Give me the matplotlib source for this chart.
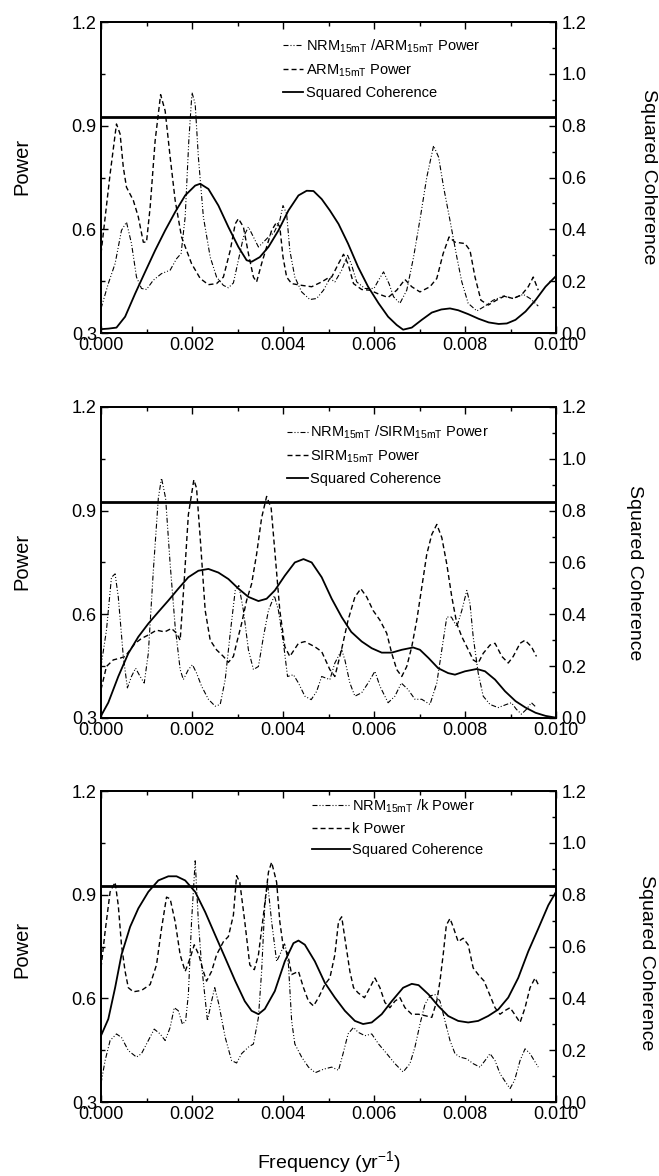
import matplotlib.pyplot as plt
from matplotlib.ticker import MultipleLocator, FormatStrFormatter

plt.rcParams['font.family'] = ['Liberation Sans', 'DejaVu Sans']
plt.rcParams['mathtext.fontset'] = 'custom'
plt.rcParams['mathtext.rm'] = 'Liberation Sans'
plt.rcParams['mathtext.it'] = 'Liberation Sans:italic'
plt.rcParams['mathtext.default'] = 'regular'

# ---- panel 1 : NRM15mT/ARM15mT vs ARM15mT ----
x_ratio1 = [0, .00016, .00031, .00045, .00056, .00067, .00078, .00089, .001, .00115, .00133, .00152, .00166,
            .00176, .00185, .00193, .002, .00207, .00214, .00225, .0024, .00254, .00269, .0028, .00291, .00302,
            .00313, .00324, .00335, .00346, .00357, .00368, .0038, .00393, .004, .00408, .00415, .00426, .00441,
            .00459, .00474, .00489, .00503, .00514, .00529, .00542, .0055, .00562, .0058, .006, .0061, .00621,
            .00633, .00643, .00657, .00672, .00687, .00702, .00716, .00731, .00742, .00753, .00767, .00782,
            .00793, .00807, .00826, .00844, .00862, .00884, .00906, .00928, .00943, .00961]
p_ratio1 = [.371, .443, .501, .597, .621, .559, .462, .429, .426, .453, .472, .482, .515, .53, .636, .857, .996,
            .963, .809, .636, .52, .462, .438, .431, .445, .511, .578, .607, .578, .549, .563, .578, .59, .626,
            .669, .645, .539, .462, .419, .397, .40, .424, .458, .448, .482, .525, .50, .448, .429, .429, .453,
            .477, .443, .405, .386, .424, .52, .636, .751, .842, .809, .722, .626, .52, .448, .386, .364, .378,
            .395, .407, .40, .412, .40, .378]
x_power1 = [0, .0002, .00034, .00042, .00049, .00056, .00071, .00082, .00093, .001, .00108, .00119, .00131,
            .00141, .00152, .00163, .00177, .00199, .00218, .00236, .00254, .00269, .00284, .00295, .00302,
            .00313, .00324, .00335, .00342, .00353, .00364, .00375, .00386, .00393, .004, .00408, .00419, .00441,
            .00463, .00485, .005, .00507, .00522, .00533, .00543, .00555, .00573, .00591, .0061, .00631, .0065,
            .00668, .00683, .00701, .00723, .00738, .00752, .00765, .00778, .008, .00811, .00822, .00835, .00851,
            .00869, .00887, .00905, .00924, .00939, .0095, .00961]
p_power1 = [.53, .76, .905, .876, .78, .722, .684, .636, .563, .563, .664, .857, .99, .943, .809, .684, .578, .501,
            .458, .44, .443, .462, .539, .616, .631, .607, .53, .462, .448, .501, .549, .597, .621, .607, .52, .462,
            .443, .438, .434, .448, .46, .462, .501, .528, .50, .443, .426, .424, .413, .403, .424, .455, .434,
            .419, .434, .458, .53, .578, .563, .559, .539, .462, .395, .381, .395, .407, .40, .41, .434, .462, .424]
x_coh1 = [0, .00016, .00034, .00053, .00075, .00097, .00119, .00141, .00163, .00185, .00207, .00218, .00236,
          .00258, .0028, .00302, .0032, .00331, .00349, .00368, .0039, .00412, .00434, .00452, .00467, .00485,
          .00503, .00522, .00543, .00565, .00587, .0061, .00631, .0065, .00664, .00683, .00705, .00727, .00748,
          .00767, .00785, .00807, .0083, .00852, .00874, .00892, .00911, .00933, .00955, .00977, .01]
coh1 = [.015, .017, .021, .063, .152, .236, .319, .396, .467, .531, .569, .576, .556, .492, .409, .332, .281, .275,
        .293, .332, .396, .473, .531, .549, .548, .517, .473, .421, .345, .255, .179, .115, .063, .031, .013, .021,
        .051, .079, .091, .095, .088, .073, .055, .041, .035, .037, .051, .083, .127, .179, .22]

# ---- panel 2 : NRM15mT/SIRM15mT vs SIRM15mT ----
x_ratio2 = [0, .00012, .00023, .00031, .00038, .00049, .00058, .00067, .00076, .00086, .00095, .00104, .00115,
            .00126, .00133, .00142, .00152, .00163, .00174, .00181, .00192, .00201, .0021, .00221, .00236, .00251,
            .00262, .00273, .00284, .00295, .00303, .00313, .00324, .00335, .00346, .00357, .00368, .00381, .0039,
            .00401, .0041, .00423, .00434, .00448, .00462, .00474, .00485, .00503, .00514, .00529, .00536, .00547,
            .00558, .00573, .00587, .00602, .00613, .00631, .00646, .0066, .00675, .0069, .00705, .00723, .00738,
            .00749, .0076, .0077, .00782, .00793, .00804, .00811, .00818, .00829, .0084, .00855, .00873, .00891,
            .00902, .00913, .00924, .00935, .00946, .00957]
p_ratio2 = [.449, .554, .707, .717, .65, .478, .387, .42, .444, .42, .401, .487, .726, .936, .994, .936, .745, .564,
            .44, .411, .44, .454, .43, .392, .354, .334, .339, .411, .545, .669, .683, .611, .497, .44, .449, .535,
            .611, .654, .611, .516, .42, .425, .401, .363, .353, .377, .42, .411, .459, .497, .468, .401, .363,
            .373, .401, .435, .392, .344, .363, .401, .382, .354, .354, .339, .401, .497, .592, .592, .564, .611,
            .669, .631, .535, .43, .363, .339, .33, .339, .344, .325, .311, .325, .344, .33]
x_power2 = [0, .00012, .00027, .00042, .00053, .00075, .00089, .00104, .00122, .0014, .00155, .00166, .00174,
            .00183, .00192, .00204, .0021, .00218, .00229, .0024, .00254, .00269, .0028, .00291, .00298, .00309,
            .0032, .00331, .00342, .00353, .00364, .00374, .00382, .00393, .00404, .00415, .00434, .00448, .0047,
            .00485, .00503, .00514, .00529, .00543, .00558, .00571, .00584, .00598, .00613, .00628, .00639, .0065,
            .00661, .00672, .00683, .00694, .00705, .00716, .00727, .00738, .00749, .0076, .00771, .00782, .00793,
            .00804, .00818, .00829, .0084, .00855, .00866, .00881, .00895, .00906, .00921, .00932, .00946, .00957]
p_power2 = [.382, .449, .468, .473, .478, .516, .53, .54, .554, .549, .559, .545, .525, .70, .888, .989, .965, .822,
            .611, .525, .497, .478, .461, .478, .516, .573, .64, .688, .774, .879, .941, .907, .783, .611, .506,
            .478, .516, .521, .506, .492, .44, .42, .50, .583, .65, .674, .65, .611, .583, .545, .487, .44, .42,
            .449, .506, .583, .678, .774, .831, .86, .822, .745, .65, .573, .535, .506, .468, .459, .487, .511,
            .516, .478, .459, .478, .516, .525, .506, .478]
x_coh2 = [0, .00016, .00038, .0006, .00082, .00104, .00126, .00148, .0017, .00192, .00214, .00236, .00258, .0028,
          .00302, .00324, .00346, .00364, .00382, .00404, .00426, .00445, .00463, .00485, .00507, .00529, .0055,
          .00573, .00595, .00617, .00639, .00661, .00686, .00701, .0072, .00741, .00763, .00778, .008, .00826,
          .00844, .00866, .00888, .00911, .00933, .00955, .00977, .01]
coh2 = [.008, .059, .16, .249, .313, .364, .409, .453, .499, .543, .568, .575, .561, .536, .499, .467, .451, .46,
        .492, .549, .6, .613, .6, .543, .46, .389, .332, .295, .269, .252, .252, .263, .272, .263, .231, .192,
        .173, .167, .18, .189, .18, .148, .103, .065, .04, .02, .008, .001]

# ---- panel 3 : NRM15mT/k vs k ----
x_ratio3 = [0, .00009, .0002, .00034, .00045, .0006, .00078, .00089, .00104, .00117, .0013, .00141, .00152, .00161,
            .0017, .00179, .00186, .00192, .00199, .00207, .00214, .00221, .00234, .00243, .0025, .00259, .00273,
            .00287, .00298, .00309, .00324, .00335, .00346, .00353, .0036, .00366, .00375, .00386, .00393, .00404,
            .00412, .00419, .00426, .00441, .00456, .00471, .00489, .00507, .00522, .00532, .00543, .00555, .00565,
            .0058, .00595, .0061, .00628, .00646, .00664, .00679, .0069, .00701, .00712, .00723, .00734, .00745,
            .00756, .00767, .00778, .00789, .00804, .00818, .00833, .00844, .00855, .00866, .00877, .00891, .00899,
            .00909, .00921, .00932, .00943, .00954, .00961]
p_ratio3 = [.354, .42, .478, .497, .487, .449, .43, .44, .478, .511, .497, .478, .516, .573, .564, .525, .535, .611,
            .822, .998, .822, .697, .535, .592, .631, .583, .487, .42, .413, .44, .459, .468, .545, .678, .869,
            .936, .822, .707, .726, .76, .697, .535, .468, .43, .401, .385, .395, .401, .392, .44, .497, .516, .502,
            .492, .497, .468, .44, .411, .387, .411, .459, .525, .583, .607, .611, .592, .535, .478, .44, .43, .425,
            .411, .401, .42, .44, .42, .382, .354, .339, .363, .42, .454, .44, .416, .401]
x_power3 = [0, .00009, .0002, .00031, .00038, .00045, .00053, .0006, .00071, .00089, .00108, .00122, .00133, .00144,
            .00152, .00163, .00174, .00185, .00196, .00205, .00215, .00225, .00232, .00243, .00254, .00269, .0028,
            .00291, .00298, .00305, .00316, .00327, .00337, .00346, .00357, .00368, .00375, .00386, .00393, .00401,
            .0041, .00419, .00434, .00445, .00456, .00467, .00478, .00492, .00503, .00514, .00522, .00529, .00536,
            .00547, .00555, .00565, .00579, .00591, .00602, .00613, .00624, .00635, .00646, .00657, .00668, .00683,
            .00698, .00712, .00727, .00738, .00745, .00752, .00759, .00767, .00774, .00785, .00796, .00807, .00818,
            .00829, .00842, .00851, .00866, .00877, .00887, .00899, .00909, .00921, .00932, .00943, .00954, .00961]
p_power3 = [.688, .793, .908, .936, .869, .755, .678, .631, .619, .623, .64, .697, .802, .893, .888, .822, .726,
            .678, .717, .755, .726, .678, .65, .678, .726, .764, .779, .841, .955, .936, .822, .697, .683, .726,
            .841, .965, .994, .936, .822, .745, .731, .669, .678, .631, .592, .578, .602, .64, .659, .726, .822,
            .836, .774, .678, .631, .616, .602, .631, .659, .631, .588, .573, .592, .602, .573, .554, .554, .55,
            .545, .592, .65, .726, .812, .831, .807, .764, .774, .755, .688, .669, .65, .621, .573, .554, .564,
            .573, .554, .53, .573, .631, .659, .64]
x_coh3 = [0, .00016, .00031, .00045, .00064, .00082, .00104, .00126, .00148, .00166, .00185, .00207, .00229, .00251,
          .00273, .00295, .00316, .00331, .00346, .0036, .00382, .00404, .00423, .00434, .00448, .0047, .00492,
          .00514, .00536, .00558, .00576, .00595, .00617, .00639, .00664, .00683, .00698, .0072, .00741, .00763,
          .00785, .00807, .00829, .00851, .00873, .00895, .00917, .00939, .00961, .00983, .01]
coh3 = [.256, .32, .441, .568, .676, .747, .811, .855, .871, .871, .855, .811, .733, .644, .556, .467, .389, .352,
        .339, .359, .428, .543, .613, .623, .607, .543, .46, .403, .352, .313, .301, .307, .339, .389, .441, .456,
        .451, .415, .371, .332, .313, .307, .313, .332, .357, .403, .479, .581, .669, .759, .811]

sig_level = 0.835  # significance level of squared coherence

labels1 = [r'NRM$_{15mT}$ /ARM$_{15mT}$ Power', r'ARM$_{15mT}$ Power', 'Squared Coherence']
labels2 = [r'NRM$_{15mT}$ /SIRM$_{15mT}$ Power', r'SIRM$_{15mT}$ Power', 'Squared Coherence']
labels3 = [r'NRM$_{15mT}$ /k Power', 'k Power', 'Squared Coherence']

panels = [
    dict(xr=x_ratio1, pr=p_ratio1, xp=x_power1, pp=p_power1, xc=x_coh1, c=coh1, labels=labels1,
         bottom=0.7168, leg=(0.40, 0.95), hl=1.4, ylab_y=166, clab=(648, 177)),
    dict(xr=x_ratio2, pr=p_ratio2, xp=x_power2, pp=p_power2, xc=x_coh2, c=coh2, labels=labels2,
         bottom=0.3895, leg=(0.409, 0.946), hl=1.4, ylab_y=561, clab=(635, 573)),
    dict(xr=x_ratio3, pr=p_ratio3, xp=x_power3, pp=p_power3, xc=x_coh3, c=coh3, labels=labels3,
         bottom=0.0629, leg=(0.464, 0.98), hl=2.6, ylab_y=949, clab=(647, 963)),
]

W, H = 659, 1176
fig = plt.figure(figsize=(W / 100, H / 100), dpi=100)

for i, pn in enumerate(panels):
    ax = fig.add_axes([101 / W, pn['bottom'], 455 / W, 311 / H])
    ax2 = ax.twinx()

    l1, = ax.plot(pn['xr'], pn['pr'], color='black', lw=0.8,
                  linestyle=(0, (4.5, 1.8, 0.9, 1.8, 0.9, 1.8)))
    l2, = ax.plot(pn['xp'], pn['pp'], color='black', lw=1.0, linestyle=(0, (3.6, 2.2)))
    l3, = ax2.plot(pn['xc'], pn['c'], color='black', lw=1.3)
    ax2.axhline(sig_level, color='black', lw=2.0)

    ax.set_xlim(0, 0.01)
    ax.set_ylim(0.3, 1.2)
    ax2.set_ylim(0, 1.2)
    ax.xaxis.set_major_locator(MultipleLocator(0.002))
    ax.xaxis.set_minor_locator(MultipleLocator(0.001))
    ax.xaxis.set_major_formatter(FormatStrFormatter('%.3f'))
    ax.yaxis.set_major_locator(MultipleLocator(0.3))
    ax.yaxis.set_minor_locator(MultipleLocator(0.15))
    ax.yaxis.set_major_formatter(FormatStrFormatter('%.1f'))
    ax2.yaxis.set_major_locator(MultipleLocator(0.2))
    ax2.yaxis.set_minor_locator(MultipleLocator(0.1))
    ax2.yaxis.set_major_formatter(FormatStrFormatter('%.1f'))

    ax.tick_params(which='both', direction='in', top=True, right=False, labelsize=13, pad=3)
    ax.tick_params(which='major', length=5, width=1)
    ax.tick_params(which='minor', length=3, width=1)
    ax2.tick_params(which='both', direction='in', right=True, left=False, labelsize=13, pad=4)
    ax2.tick_params(which='major', length=5, width=1)
    ax2.tick_params(which='minor', length=3, width=1)
    for a in (ax, ax2):
        for s in a.spines.values():
            s.set_linewidth(1.3)

    leg = ax2.legend([l1, l2, l3], pn['labels'], loc='upper left', bbox_to_anchor=pn['leg'],
                     frameon=False, fontsize=10.5, handlelength=pn['hl'], handletextpad=0.15,
                     labelspacing=0.5, borderpad=0, borderaxespad=0)

    fig.text(22 / W, 1 - pn['ylab_y'] / H, 'Power', rotation=90, ha='center', va='center', fontsize=14.5)
    fig.text(pn['clab'][0] / W, 1 - pn['clab'][1] / H, 'Squared Coherence', rotation=270,
             ha='center', va='center', fontsize=14)

fig.text(329 / W, 1 - 1162 / H, r'Frequency (yr$^{-1}$)', ha='center', va='center', fontsize=14)

fig.savefig('out.png', dpi=100)
